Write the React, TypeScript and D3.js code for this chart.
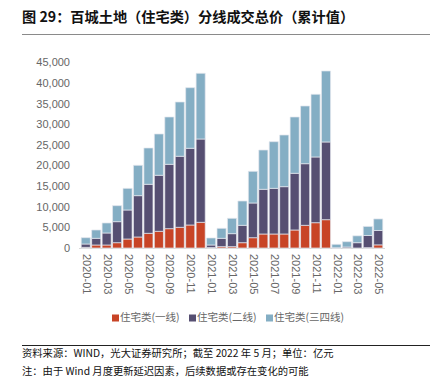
import React from "react";
import * as d3 from "d3";

const months = [
  "2020-01","2020-02","2020-03","2020-04","2020-05","2020-06","2020-07","2020-08","2020-09","2020-10","2020-11","2020-12",
  "2021-01","2021-02","2021-03","2021-04","2021-05","2021-06","2021-07","2021-08","2021-09","2021-10","2021-11","2021-12",
  "2022-01","2022-02","2022-03","2022-04","2022-05",
];
const tier1 = [150,730,730,1290,2180,2670,3560,4050,4690,5020,5580,6230, 100,330,330,1290,2500,3400,3400,3400,4370,5500,6140,6870, 0,0,0,80,760];
const tier2 = [820,1620,2910,5100,7040,10030,11890,13590,15610,17230,18610,20210, 630,2020,3150,4210,8420,10840,11070,11480,13750,14950,15940,18850, 60,240,1290,2950,3490];
const tier34 = [1530,2020,2430,3880,5250,7360,8810,10020,11480,13170,14700,15940, 1700,2420,3720,5900,7680,9530,11320,12530,13660,14000,15210,17220, 830,1290,1660,2200,2800];
const seriesNames = ["住宅类(一线)", "住宅类(二线)", "住宅类(三四线)"];
const colors = ["#c84426", "#564f72", "#84aec4"];
const yTicks = [0,5000,10000,15000,20000,25000,30000,35000,40000,45000];

const title = "图 29：百城土地（住宅类）分线成交总价（累计值）";
const source = "资料来源：WIND，光大证券研究所；截至 2022 年 5 月；单位：亿元";
const note = "注：由于 Wind 月度更新延迟因素，后续数据或存在变化的可能";

export default function App() {
  const W = 433, H = 392;
  const font = "'Liberation Sans', Arial, 'Noto Sans CJK SC', sans-serif";
  const cjk = "'Noto Sans CJK SC', sans-serif";
  const rows = months.map((m, i) => ({ m, a: tier1[i], b: tier2[i], c: tier34[i] }));
  const stack = d3.stack<any>().keys(["a", "b", "c"])(rows);
  const x = d3.scaleBand().domain(months).range([80.6, 383.4]).paddingInner(0.13).paddingOuter(0.06);
  const y = d3.scaleLinear().domain([0, 45000]).range([248, 62.5]);
  const fmt = d3.format(",");

  const legendX = [112, 189, 266];

  return (
    <svg width={W} height={H} style={{ position: "absolute", left: 0, top: 0, background: "#fff" }}>
      <text x={22} y={22} fontFamily={cjk} fontWeight="bold" fontSize={14.2} fill="#111">{title}</text>
      <line x1={22} x2={430} y1={34.5} y2={34.5} stroke="#8a8a8a" strokeWidth={1.2} />

      {yTicks.map((t) => (
        <text key={t} x={70} y={y(t)} dy="0.35em" textAnchor="end" fontFamily={font} fontSize={11} fill="#666">{fmt(t)}</text>
      ))}

      <line x1={79} x2={385} y1={248.5} y2={248.5} stroke="#d9d9d9" strokeWidth={1} />

      {stack.map((s, si) => (
        <g key={si}>
          {s.map((d, i) => {
            const y0 = y(d[0]);
            const y1 = y(d[1]);
            return (
              <rect key={i} x={x(months[i])} y={y1} width={x.bandwidth()} height={Math.max(0, y0 - y1)}
                fill={colors[si]} stroke="#e4e6ee" strokeWidth={0.7} strokeLinejoin="round" />
            );
          })}
        </g>
      ))}

      {months.map((m, i) => i % 2 === 0 ? (
        <text key={m} transform={`translate(${(x(m) as number) + x.bandwidth() / 2},254) rotate(90)`}
          dominantBaseline="middle" fontFamily={font} fontSize={11} fill="#666">{m}</text>
      ) : null)}

      {seriesNames.map((n, i) => (
        <g key={n}>
          <rect x={legendX[i]} y={314.5} width={7} height={7} fill={colors[i]} />
          <text x={legendX[i] + 8} y={318.5} dominantBaseline="middle" fontFamily={cjk} fontSize={10.5} fill="#666">{n}</text>
        </g>
      ))}

      <line x1={22} x2={430} y1={345.5} y2={345.5} stroke="#222" strokeWidth={1} />
      <text x={22} y={357} fontFamily={cjk} fontSize={10.3} fill="#111">{source}</text>
      <text x={22} y={375} fontFamily={cjk} fontSize={10.3} fill="#111">{note}</text>
    </svg>
  );
}
